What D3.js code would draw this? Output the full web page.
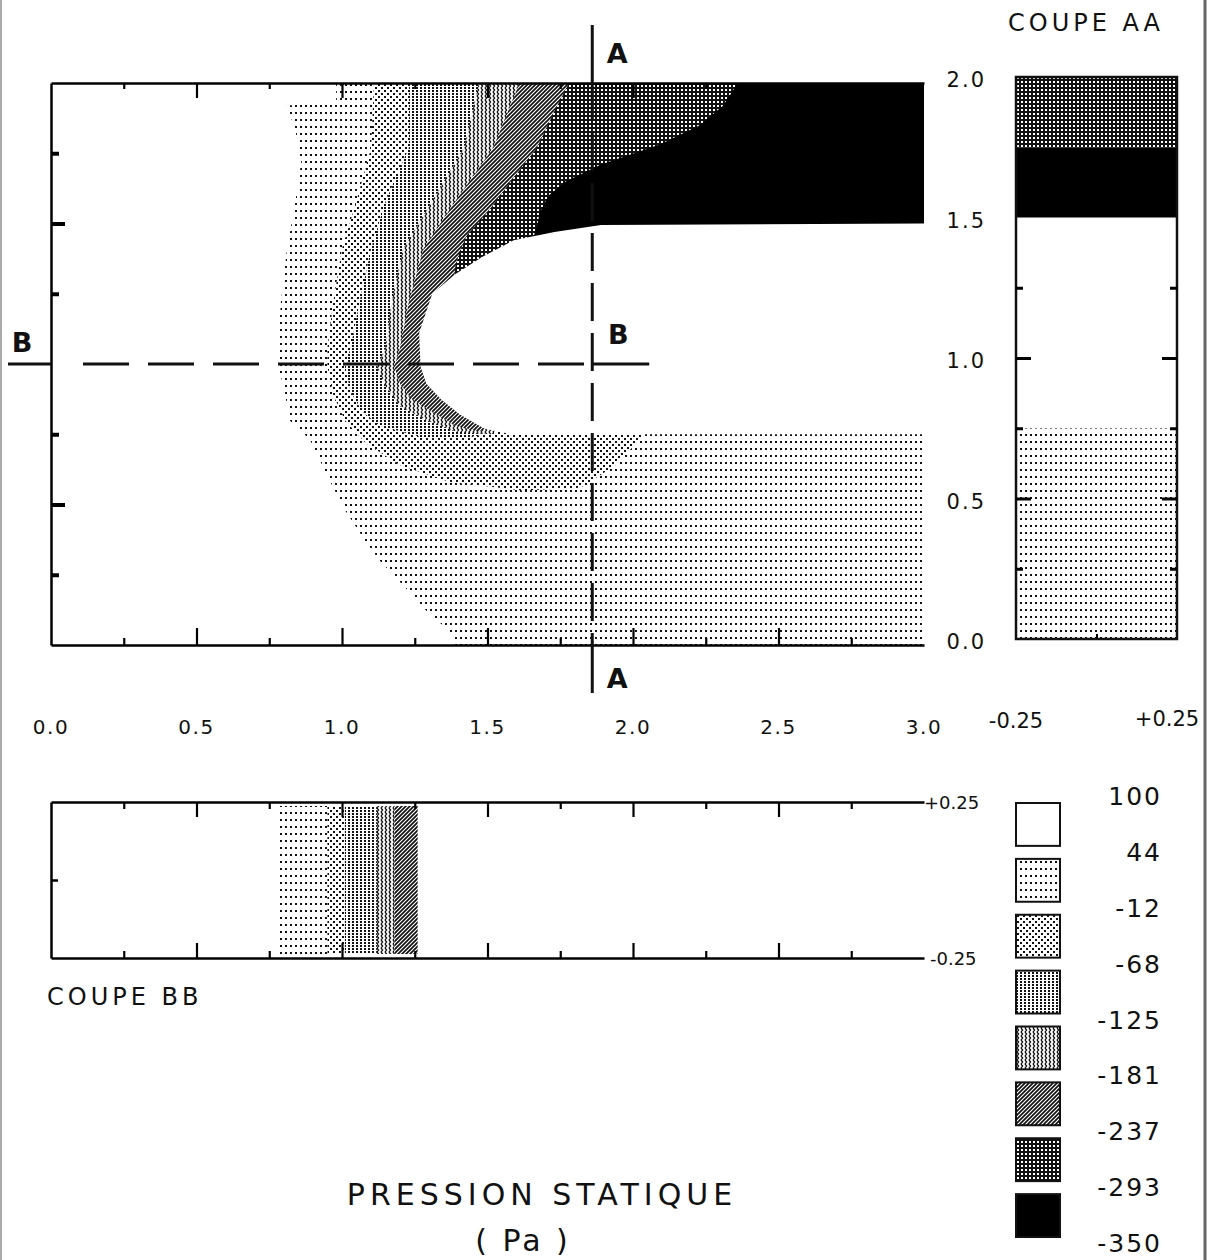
<!DOCTYPE html>
<html>
<head>
<meta charset="utf-8">
<script src="https://cdn.jsdelivr.net/npm/d3@7"></script>
<style>
  body { margin: 0; background: #fff; }
  svg { display: block; }
  text { font-family: "DejaVu Sans", sans-serif; fill: #111; }
</style>
</head>
<body>
<svg id="chart"></svg>
<script>
// pressure levels (Pa), legend from top to bottom
const levels = ["100", "44", "-12", "-68", "-125", "-181", "-237", "-293", "-350"];

// outline (x, y) of the zone below each level
const below44 = [[0.98,2.0],[0.98,1.93],[0.81,1.92],[0.84,1.83],[0.86,1.72],[0.84,1.58],[0.81,1.40],[0.79,1.22],[0.78,1.06],[0.78,0.99],[0.80,0.92],[0.82,0.80],[0.89,0.73],[0.96,0.58],[1.01,0.48],[1.08,0.37],[1.13,0.30],[1.23,0.19],[1.30,0.11],[1.37,0.05],[1.39,0.0],[3,0],[3,2]];
const belowM12 = [[1.11,2.0],[1.10,1.77],[1.05,1.58],[1.00,1.41],[0.97,1.22],[0.95,1.06],[0.95,0.99],[0.97,0.89],[1.01,0.80],[1.08,0.72],[1.20,0.64],[1.37,0.58],[1.62,0.55],[1.82,0.56],[1.94,0.64],[2.04,0.75],[2.10,0.85],[3,0.85],[3,2]];
const belowM68 = [[1.23,2.0],[1.23,1.77],[1.15,1.58],[1.10,1.41],[1.06,1.22],[1.03,1.06],[1.01,0.99],[1.03,0.90],[1.07,0.83],[1.13,0.78],[1.27,0.74],[1.44,0.74],[1.54,0.76],[1.8,0.9],[3,0.9],[3,2]];
const belowM125 = [[1.47,2.0],[1.42,1.77],[1.31,1.58],[1.21,1.41],[1.17,1.22],[1.15,1.06],[1.12,0.99],[1.15,0.92],[1.20,0.85],[1.29,0.80],[1.39,0.76],[1.51,0.75],[1.8,0.9],[3,0.9],[3,2]];
const belowM181 = [[1.61,2.0],[1.52,1.77],[1.39,1.58],[1.28,1.41],[1.23,1.22],[1.20,1.06],[1.18,0.99],[1.20,0.93],[1.24,0.875],[1.31,0.83],[1.39,0.78],[1.47,0.76],[1.8,0.9],[3,0.9],[3,2]];
const belowM237 = [[1.78,2.0],[1.73,1.90],[1.67,1.77],[1.58,1.65],[1.50,1.54],[1.43,1.46],[1.405,1.40],[1.39,1.35],[1.385,1.30],[1.7,1.2],[3,1.2],[3,2]];
const belowM293 = [[2.36,2.0],[2.31,1.92],[2.23,1.85],[2.09,1.78],[1.89,1.71],[1.77,1.65],[1.71,1.60],[1.68,1.54],[1.67,1.49],[1.66,1.46],[1.9,1.2],[3,1.2],[3,2]];
// blank zone (no data) right of the crescent
const obstacle = [[1.27,0.99],[1.265,1.11],[1.31,1.25],[1.39,1.32],[1.48,1.38],[1.59,1.44],[1.73,1.47],[1.89,1.495],[3,1.5],[3,0.75],[1.58,0.75],[1.49,0.77],[1.405,0.82],[1.34,0.875],[1.29,0.93]];

// coupe AA (x = 1.86): band edges in y and the level index of each band
const aaEdges = [0, 0.75, 1.5, 1.75, 2.0];
const aaBands = [1, 0, 7, 6];
// coupe BB (y = 1.0): band edges in x
const bbEdges = [0.78, 0.95, 1.01, 1.12, 1.18, 1.26];
const bbBands = [1, 2, 3, 4, 5];

const xTicks = [0, 0.5, 1, 1.5, 2, 2.5, 3];
const yTicks = [0, 0.5, 1, 1.5, 2];
const sectionA = 1.86;
const sectionB = 1.0;

const width = 1209, height = 1260;
const svg = d3.select("#chart").attr("width", width).attr("height", height);

const x = d3.scaleLinear().domain([0, 3]).range([51, 924]);
const y = d3.scaleLinear().domain([0, 2]).range([645, 83]);
const ax = d3.scaleLinear().domain([-0.25, 0.25]).range([1016, 1177]);
const ay = d3.scaleLinear().domain([0, 2]).range([639, 77]);
const by = d3.scaleLinear().domain([-0.25, 0.25]).range([958, 802]);
const ly = d3.scaleLinear().domain([0, 8]).range([796, 1243]);

// fill patterns, one per level band
const defs = svg.append("defs");
const pattern = (id, w, h, bg) => {
    const p = defs.append("pattern").attr("id", id)
        .attr("patternUnits", "userSpaceOnUse")
        .attr("width", w).attr("height", h);
    p.append("rect").attr("width", w).attr("height", h).attr("fill", bg);
    return p;
};
pattern("lv1", 5, 7, "#fff").append("rect").attr("width", 2).attr("height", 2).attr("fill", "#111");
pattern("lv2", 6, 6, "#fff").call(p => {
    p.append("rect").attr("width", 2).attr("height", 2).attr("fill", "#111");
    p.append("rect").attr("x", 3).attr("y", 3).attr("width", 2).attr("height", 2).attr("fill", "#111");
});
pattern("lv3", 4, 3, "#fff").append("rect").attr("width", 2).attr("height", 2).attr("fill", "#111");
pattern("lv4", 4, 4, "#fff").append("path").attr("d", "M1,0L2.6,2L1,4")
    .attr("fill", "none").attr("stroke", "#111").attr("stroke-width", 1.3);
pattern("lv5", 4, 4, "#fff").append("path").attr("d", "M0,4L4,0M-1,1L1,-1M3,5L5,3")
    .attr("stroke", "#111").attr("stroke-width", 1.7);
pattern("lv6", 4, 4, "#111").append("rect").attr("x", 1).attr("y", 1).attr("width", 2).attr("height", 2).attr("fill", "#fff");
pattern("lv7", 4, 4, "#000");
const fillFor = d => d === 0 ? "#fff" : `url(#lv${d})`;

// page edges
svg.append("line").attr("x1", 1).attr("x2", 1).attr("y1", 0).attr("y2", height)
    .attr("stroke", "#aaa").attr("stroke-width", 2);
svg.append("line").attr("x1", 1205).attr("x2", 1205).attr("y1", 0).attr("y2", height)
    .attr("stroke", "#666").attr("stroke-width", 3);

// ---- main map ----
const main = svg.append("g");
const outline = d3.line().x(d => x(d[0])).y(d => y(d[1]));
const zones = [below44, belowM12, belowM68, belowM125, belowM181, belowM237, belowM293];
main.selectAll("path.zone").data(zones).join("path")
    .attr("class", "zone")
    .attr("d", d => outline(d) + "Z")
    .attr("fill", (d, i) => fillFor(i + 1));
main.append("path").attr("d", outline(obstacle) + "Z").attr("fill", "#fff");

const qMaj = [0.5, 1, 1.5, 2, 2.5];
const qMin = [0.25, 0.75, 1.25, 1.75, 2.25, 2.75];
const styleAxis = (g, w) => {
    g.selectAll(".domain").attr("stroke-width", 2.5);
    g.selectAll(".tick line").attr("stroke-width", w);
};
main.append("g").attr("transform", `translate(0,${y(0)})`)
    .call(d3.axisBottom(x).tickValues(qMaj).tickSize(-17).tickSizeOuter(0).tickFormat(""))
    .call(g => styleAxis(g, 2.2));
main.append("g").attr("transform", `translate(0,${y(0)})`)
    .call(d3.axisBottom(x).tickValues(qMin).tickSize(-7).tickFormat(""))
    .call(g => g.select(".domain").remove()).call(g => styleAxis(g, 2.2));
main.append("g").attr("transform", `translate(0,${y(2)})`)
    .call(d3.axisTop(x).tickValues(qMaj).tickSize(-15).tickSizeOuter(0).tickFormat(""))
    .call(g => styleAxis(g, 2.2));
main.append("g").attr("transform", `translate(0,${y(2)})`)
    .call(d3.axisTop(x).tickValues(qMin).tickSize(-6).tickFormat(""))
    .call(g => g.select(".domain").remove()).call(g => styleAxis(g, 2.2));
main.append("g").attr("transform", `translate(${x(0)},0)`)
    .call(d3.axisLeft(y).tickValues([0.5, 1.5]).tickSize(-14).tickSizeOuter(0).tickFormat(""))
    .call(g => styleAxis(g, 4));
main.append("g").attr("transform", `translate(${x(0)},0)`)
    .call(d3.axisLeft(y).tickValues([0.25, 0.75, 1.25, 1.75]).tickSize(-8).tickFormat(""))
    .call(g => g.select(".domain").remove()).call(g => styleAxis(g, 4));

main.selectAll("text.xl").data(xTicks).join("text")
    .attr("class", "xl")
    .attr("x", d => x(d)).attr("y", 734)
    .attr("text-anchor", "middle")
    .style("font-size", "20px").style("letter-spacing", "1.5px")
    .text(d => d.toFixed(1));

// section lines A-A and B-B
const sec = svg.append("g").attr("stroke", "#111").attr("stroke-width", 3).attr("fill", "none");
sec.append("line").attr("x1", x(sectionA)).attr("x2", x(sectionA)).attr("y1", y(2) - 58).attr("y2", y(2));
sec.append("line").attr("x1", x(sectionA)).attr("x2", x(sectionA)).attr("y1", y(2)).attr("y2", y(0))
    .attr("stroke-dasharray", "38 12");
sec.append("line").attr("x1", x(sectionA)).attr("x2", x(sectionA)).attr("y1", y(0)).attr("y2", y(0) + 48);
sec.append("line").attr("x1", x(0) - 43).attr("x2", x(0)).attr("y1", y(sectionB)).attr("y2", y(sectionB));
sec.append("line").attr("x1", x(0) + 32).attr("x2", x(sectionA)).attr("y1", y(sectionB)).attr("y2", y(sectionB))
    .attr("stroke-dasharray", "46 19");
sec.append("line").attr("x1", x(sectionA)).attr("x2", x(sectionA) + 57).attr("y1", y(sectionB)).attr("y2", y(sectionB));

const secLabels = [
    {t: "A", x: x(sectionA) + 25, y: y(2) - 30},
    {t: "A", x: x(sectionA) + 25, y: y(0) + 33},
    {t: "B", x: 22, y: y(sectionB) - 22},
    {t: "B", x: x(sectionA) + 26, y: y(sectionB) - 30}
];
svg.selectAll("text.sec").data(secLabels).join("text")
    .attr("class", "sec")
    .attr("x", d => d.x).attr("y", d => d.y + 10)
    .attr("text-anchor", "middle")
    .style("font-size", "27px").style("font-weight", "bold")
    .text(d => d.t);

// ---- coupe AA ----
const aa = svg.append("g");
aa.selectAll("rect.band").data(aaBands).join("rect")
    .attr("class", "band")
    .attr("x", ax(-0.25)).attr("width", ax(0.25) - ax(-0.25))
    .attr("y", (d, i) => ay(aaEdges[i + 1]))
    .attr("height", (d, i) => ay(aaEdges[i]) - ay(aaEdges[i + 1]))
    .attr("fill", fillFor);
aa.append("rect")
    .attr("x", ax(-0.25)).attr("y", ay(2))
    .attr("width", ax(0.25) - ax(-0.25)).attr("height", ay(0) - ay(2))
    .attr("fill", "none").attr("stroke", "#111").attr("stroke-width", 2.5);
[[ax(-0.25), d3.axisLeft], [ax(0.25), d3.axisRight]].forEach(([px, axis]) => {
    aa.append("g").attr("transform", `translate(${px},0)`)
        .call(axis(ay).tickValues([0.5, 1.0]).tickSize(-15).tickFormat(""))
        .call(g => g.select(".domain").remove()).call(g => styleAxis(g, 3));
    aa.append("g").attr("transform", `translate(${px},0)`)
        .call(axis(ay).tickValues([0.25, 0.75, 1.25]).tickSize(-7).tickFormat(""))
        .call(g => g.select(".domain").remove()).call(g => styleAxis(g, 3));
});
aa.append("g").attr("transform", `translate(0,${ay(0)})`)
    .call(d3.axisBottom(ax).tickValues([0]).tickSize(-5).tickFormat(""))
    .call(g => g.select(".domain").remove()).call(g => styleAxis(g, 2));

aa.selectAll("text.yl").data(yTicks).join("text")
    .attr("class", "yl")
    .attr("x", 986).attr("y", d => ay(d) + 10)
    .attr("text-anchor", "end")
    .style("font-size", "21px").style("letter-spacing", "2px")
    .text(d => d.toFixed(1));
aa.selectAll("text.al").data([-0.25, 0.25]).join("text")
    .attr("class", "al")
    .attr("x", (d, i) => i ? 1167 : 1016).attr("y", (d, i) => i ? 726 : 728)
    .attr("text-anchor", "middle")
    .style("font-size", "21px")
    .text(d => (d > 0 ? "+" : "") + d.toFixed(2));
svg.append("text").attr("x", 1008).attr("y", 31)
    .style("font-size", "24px").style("letter-spacing", "4px")
    .text("COUPE AA");

// ---- coupe BB ----
const bb = svg.append("g");
bb.selectAll("rect.band").data(bbBands).join("rect")
    .attr("class", "band")
    .attr("x", (d, i) => x(bbEdges[i]))
    .attr("width", (d, i) => x(bbEdges[i + 1]) - x(bbEdges[i]))
    .attr("y", by(0.25) + 4).attr("height", by(-0.25) - by(0.25) - 8)
    .attr("fill", fillFor);
[[by(0.25), d3.axisTop], [by(-0.25), d3.axisBottom]].forEach(([py, axis]) => {
    bb.append("g").attr("transform", `translate(0,${py})`)
        .call(axis(x).tickValues(qMaj).tickSize(-15).tickSizeOuter(0).tickFormat(""))
        .call(g => styleAxis(g, 2.2));
    bb.append("g").attr("transform", `translate(0,${py})`)
        .call(axis(x).tickValues(qMin).tickSize(-7).tickFormat(""))
        .call(g => g.select(".domain").remove()).call(g => styleAxis(g, 2.2));
});
bb.append("g").attr("transform", `translate(${x(0)},0)`)
    .call(d3.axisLeft(by).tickValues([0]).tickSize(-7).tickSizeOuter(0).tickFormat(""))
    .call(g => styleAxis(g, 2.5));
bb.selectAll("text.bl").data([0.25, -0.25]).join("text")
    .attr("class", "bl")
    .attr("x", (d, i) => i ? 930 : 924).attr("y", d => by(d) + 7)
    .style("font-size", "18px")
    .text(d => (d > 0 ? "+" : "") + d.toFixed(2));
svg.append("text").attr("x", 47).attr("y", 1005)
    .style("font-size", "24px").style("letter-spacing", "4px")
    .text("COUPE BB");

// ---- legend ----
const legend = svg.append("g");
legend.selectAll("rect").data(d3.range(8)).join("rect")
    .attr("x", 1016).attr("width", 44)
    .attr("y", d => ly(d) + 7).attr("height", d => ly(d + 1) - ly(d) - 13)
    .attr("fill", fillFor)
    .attr("stroke", "#111").attr("stroke-width", 2);
legend.selectAll("text").data(levels).join("text")
    .attr("x", 1162).attr("y", (d, i) => ly(i) + 9)
    .attr("text-anchor", "end")
    .style("font-size", "25px").style("letter-spacing", "2px")
    .text(d => d);

// ---- title ----
svg.append("text").attr("x", 542).attr("y", 1205)
    .attr("text-anchor", "middle")
    .style("font-size", "30px").style("letter-spacing", "5px")
    .text("PRESSION STATIQUE");
svg.append("text").attr("x", 523).attr("y", 1251)
    .attr("text-anchor", "middle")
    .style("font-size", "30px").style("letter-spacing", "3px")
    .text("( Pa )");
</script>
</body>
</html>
